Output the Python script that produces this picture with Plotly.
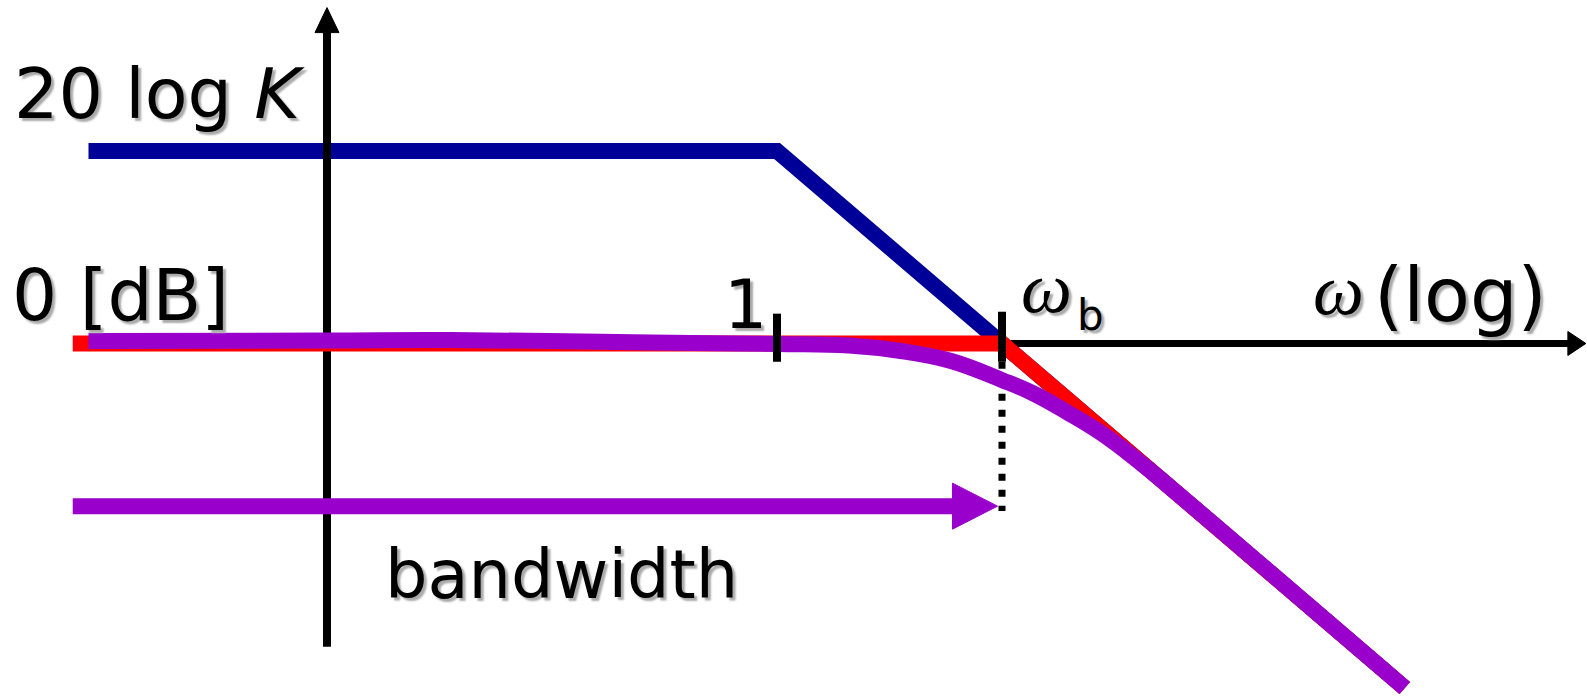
import plotly.graph_objects as go

W, H = 1587, 699

# Horizontal unit: decades of omega (log10 w), w = 1 -> 0, w_b -> 1
# Vertical unit: magnitude in dB, 20 log K = 20 dB
X_RANGE = [-3.4533, 3.6]
Y_RANGE = [-36.94, 35.69]

open_loop_x = [-3.06, 0.0, 2.79]
open_loop_y = [20.0, 20.0, -35.8]

closed_asym_x = [-3.13, 1.0, 2.79]
closed_asym_y = [0.0, 0.0, -35.8]

closed_x = [-3.06, -2.0, -1.45, -0.56, 0.0, 0.32, 0.55, 0.77, 1.0, 1.14, 1.29, 1.44, 1.6, 1.75, 2.79]
closed_y = [0.26, 0.31, 0.36, 0.10, -0.05, -0.21, -0.78, -1.8, -3.8, -5.2, -7.15, -9.3, -12.1, -15.0, -35.8]

tick_one_x, tick_one_y = [0.0, 0.0], [3.1, -1.9]
tick_wb_x, tick_wb_y = [1.0, 1.0], [3.3, -1.9]
wb_drop_x, wb_drop_y = [1.0, 1.0], [-1.9, -17.4]

bw_x, bw_y = [-3.13, 0.98], [-16.9, -16.9]
haxis_x, haxis_y = [1.0, 3.595], [0.0, 0.0]
vaxis_x, vaxis_y = [-2.0, -2.0], [-31.5, 34.9]

PX_X = W / (X_RANGE[1] - X_RANGE[0])
PX_Y = H / (Y_RANGE[1] - Y_RANGE[0])

BLUE, RED, PURPLE, BLACK = "#000099", "#ff0000", "#9900cc", "#000000"


def head(tip_x, tip_y, dx, dy, length_px, half_px):
    """triangle arrow head pointing along (dx, dy) in pixel space"""
    bx = tip_x - dx * length_px / PX_X
    by = tip_y - dy * length_px / PX_Y
    px, py = -dy, dx
    xs = [tip_x, bx + px * half_px / PX_X, bx - px * half_px / PX_X, tip_x]
    ys = [tip_y, by + py * half_px / PX_Y, by - py * half_px / PX_Y, tip_y]
    return xs, ys


fig = go.Figure()


def line(x, y, color, width, dash="solid", shape="linear", smoothing=1.0):
    fig.add_trace(go.Scatter(x=x, y=y, mode="lines", hoverinfo="skip",
                             line=dict(color=color, width=width, dash=dash, shape=shape,
                                       smoothing=smoothing)))


def tri(xs, ys, color):
    fig.add_trace(go.Scatter(x=xs, y=ys, mode="lines", fill="toself", fillcolor=color,
                             hoverinfo="skip", line=dict(color=color, width=1)))


line(open_loop_x, open_loop_y, BLUE, 16)
# axes
line(vaxis_x, [vaxis_y[0], vaxis_y[1] - 20 / PX_Y], BLACK, 8)
tri(*head(vaxis_x[1], vaxis_y[1], 0, 1, 25, 12), BLACK)
line([haxis_x[0], haxis_x[1] - 14 / PX_X], haxis_y, BLACK, 7)
tri(*head(haxis_x[1], haxis_y[1], 1, 0, 18, 12), BLACK)

line(closed_asym_x, closed_asym_y, RED, 16)
line(wb_drop_x, wb_drop_y, BLACK, 7, dash="7px,9px")
line(closed_x, closed_y, PURPLE, 16, shape="spline", smoothing=1.2)

# bandwidth arrow
line([bw_x[0], bw_x[1] - 40 / PX_X], bw_y, PURPLE, 16)
tri(*head(bw_x[1], bw_y[1], 1, 0, 45, 23), PURPLE)

line(tick_one_x, tick_one_y, BLACK, 8)
line(tick_wb_x, tick_wb_y, BLACK, 8)

SHADOW = "3px 3px 2px #aaaaaa"
SANS = "DejaVu Sans"
SERIF = "Liberation Serif"


def label(text, px, py, size, family=SANS, xanchor="left"):
    fig.add_annotation(text=text, x=px / W, y=1 - py / H, xref="paper", yref="paper",
                       xanchor=xanchor, yanchor="middle", showarrow=False,
                       font=dict(family=family, size=size, color=BLACK, shadow=SHADOW))


label("20 log <i>K</i>", 12, 94, 70)
label("0 [dB]", 10, 295, 71)
label("1", 722, 304, 68)
label("<i>ω</i>", 1074, 288, 72, family=SERIF, xanchor="right")
label("b", 1075, 315, 42)
label("<i>ω</i>", 1366, 290, 72, family=SERIF, xanchor="right")
label("(log)", 1372, 295, 75)
label("bandwidth", 383, 575, 67)

fig.update_layout(
    width=W, height=H, autosize=False,
    margin=dict(l=0, r=0, t=0, b=0),
    paper_bgcolor="white", plot_bgcolor="white",
    showlegend=False,
    xaxis=dict(range=X_RANGE, visible=False, fixedrange=True),
    yaxis=dict(range=Y_RANGE, visible=False, fixedrange=True),
)

fig.write_html("out.html", config={"displayModeBar": False},
               post_script="document.body.style.margin='0';")
